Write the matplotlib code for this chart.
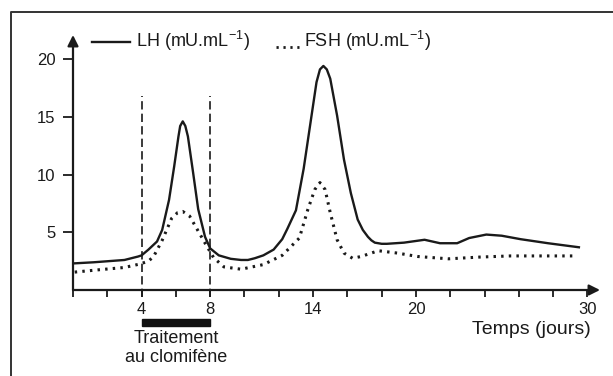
import matplotlib
matplotlib.use("Agg")
import matplotlib.pyplot as plt
from matplotlib.lines import Line2D
from matplotlib.patches import Rectangle

plt.rcParams['font.family'] = ['Liberation Sans', 'DejaVu Sans']
plt.rcParams['mathtext.fontset'] = 'custom'
plt.rcParams['mathtext.rm'] = 'Liberation Sans'

# LH (solid), days / mU.mL-1
lh_days = [0, 1.2, 2.1, 3.0, 3.8, 4.0, 4.4, 4.9, 5.2, 5.6, 5.9, 6.15, 6.25, 6.4,
           6.55, 6.7, 7.0, 7.3, 7.7, 8.0, 8.5, 9.2, 9.8, 10.2, 10.6, 11.1, 11.7,
           12.2, 12.5, 13.0, 13.45, 13.85, 14.2, 14.4, 14.6, 14.8, 15.0, 15.4,
           15.8, 16.2, 16.6, 16.9, 17.2, 17.4, 17.6, 18.0, 18.3, 19.3, 20.5,
           21.4, 22.4, 23.1, 24.1, 25.0, 26.1, 27.7, 29.5]
lh_vals = [2.3, 2.4, 2.5, 2.6, 2.9, 3.0, 3.5, 4.2, 5.2, 7.8, 10.7, 13.3, 14.2, 14.6,
           14.2, 13.3, 10.2, 7.0, 4.6, 3.6, 3.0, 2.7, 2.6, 2.6, 2.75, 3.0, 3.5,
           4.4, 5.3, 6.9, 10.5, 14.5, 18.0, 19.1, 19.4, 19.1, 18.3, 15.1,
           11.3, 8.4, 6.1, 5.2, 4.6, 4.3, 4.1, 4.0, 4.0, 4.1, 4.35,
           4.05, 4.05, 4.5, 4.8, 4.7, 4.4, 4.05, 3.7]

# FSH (dotted)
fsh_days = [0.1, 1.5, 3.0, 3.9, 4.4, 4.7, 5.2, 5.75, 6.1, 6.4, 6.8, 7.3, 7.8, 8.2,
            8.8, 9.8, 11.1, 12.2, 13.2, 13.7, 14.1, 14.4, 14.7, 15.0, 15.4, 15.8,
            16.3, 16.8, 17.6, 17.8, 18.9, 20.1, 21.9, 23.7, 25.5, 27.7, 29.3]
fsh_vals = [1.55, 1.75, 1.95, 2.25, 2.5, 2.9, 4.3, 6.2, 6.7, 6.8, 6.4, 5.1, 3.8, 2.8,
            2.0, 1.8, 2.2, 3.0, 4.5, 7.0, 8.7, 9.3, 8.7, 6.7, 4.35, 3.2,
            2.75, 2.9, 3.3, 3.4, 3.2, 2.9, 2.7, 2.85, 2.95, 2.95, 2.95]

x_ticks = list(range(0, 31, 2))
x_labelled = [4, 8, 14, 20, 30]
y_ticks = [5, 10, 15, 20]
treatment = (4, 8)

W, H = 613, 376
fig = plt.figure(figsize=(W / 100, H / 100), dpi=100)


def fx(x):
    return x / W


def fy(y):
    return 1 - y / H


# axes box in pixels: x 73..600, y 290 (zero) .. 35 (arrow tip)
ax = fig.add_axes([fx(73), fy(290), fx(600) - fx(73), fy(35) - fy(290)])
ax.set_xlim(0, 30.73)
ax.set_ylim(0, 22.08)
for s in ax.spines.values():
    s.set_visible(False)
ax.patch.set_alpha(0)

ink = '#1a1a1a'
ax.annotate('', xy=(1, 0), xytext=(0, 0), xycoords='axes fraction',
            arrowprops=dict(arrowstyle='-|>', lw=1.6, color=ink, mutation_scale=16,
                            shrinkA=0, shrinkB=0))
ax.annotate('', xy=(0, 1), xytext=(0, 0), xycoords='axes fraction',
            arrowprops=dict(arrowstyle='-|>', lw=1.6, color=ink, mutation_scale=16,
                            shrinkA=0, shrinkB=0))

ax.set_xticks(x_ticks)
ax.set_xticklabels([str(t) if t in x_labelled else '' for t in x_ticks])
ax.set_yticks(y_ticks)
ax.set_yticklabels([str(t) for t in y_ticks])
ax.tick_params(axis='x', direction='out', length=5, width=1.3, pad=4,
               labelsize=12, colors=ink)
ax.tick_params(axis='y', direction='out', length=7.5, width=1.3, pad=5,
               labelsize=12, colors=ink)

ax.plot(lh_days, lh_vals, color=ink, lw=1.7, solid_joinstyle='round')
ax.plot(fsh_days, fsh_vals, color=ink, lw=2.2, linestyle=(0, (0.8, 1.7)),
        dash_capstyle='butt')

for d in treatment:
    ax.plot([d, d], [-0.6, 16.8], color=ink, lw=1.2, linestyle=(0, (5, 2.5)),
            clip_on=False)

# treatment bar under the axis
ax.add_patch(Rectangle((treatment[0], -3.1), treatment[1] - treatment[0], 0.6,
                       color='#111111', clip_on=False))
ax.text(6, -3.5, 'Traitement\nau clomifène', ha='center', va='top',
        fontsize=13, color=ink, linespacing=1.1)

fig.text(fx(591), fy(330), 'Temps (jours)', ha='right', va='center',
         fontsize=14, color=ink)

# legend
fig.add_artist(Line2D([fx(92), fx(130)], [fy(42), fy(42)], color=ink, lw=1.7))
fig.text(fx(136), fy(41), r'LH (mU.mL$^{-1}$)', ha='left', va='center',
         fontsize=13, color=ink)
fig.add_artist(Line2D([fx(276), fx(299)], [fy(47), fy(47)], color=ink, lw=2.0,
                      linestyle=(0, (0.8, 1.7))))
fig.text(fx(304), fy(41), r'FSH (mU.mL$^{-1}$)', ha='left', va='center',
         fontsize=13, color=ink)

# outer frame, cut at the right and bottom
fig.add_artist(Line2D([fx(11), fx(11), fx(W + 5)], [fy(H + 5), fy(12), fy(12)],
                      color='#333333', lw=1.4))

fig.savefig('out.png', dpi=100, facecolor='white')
